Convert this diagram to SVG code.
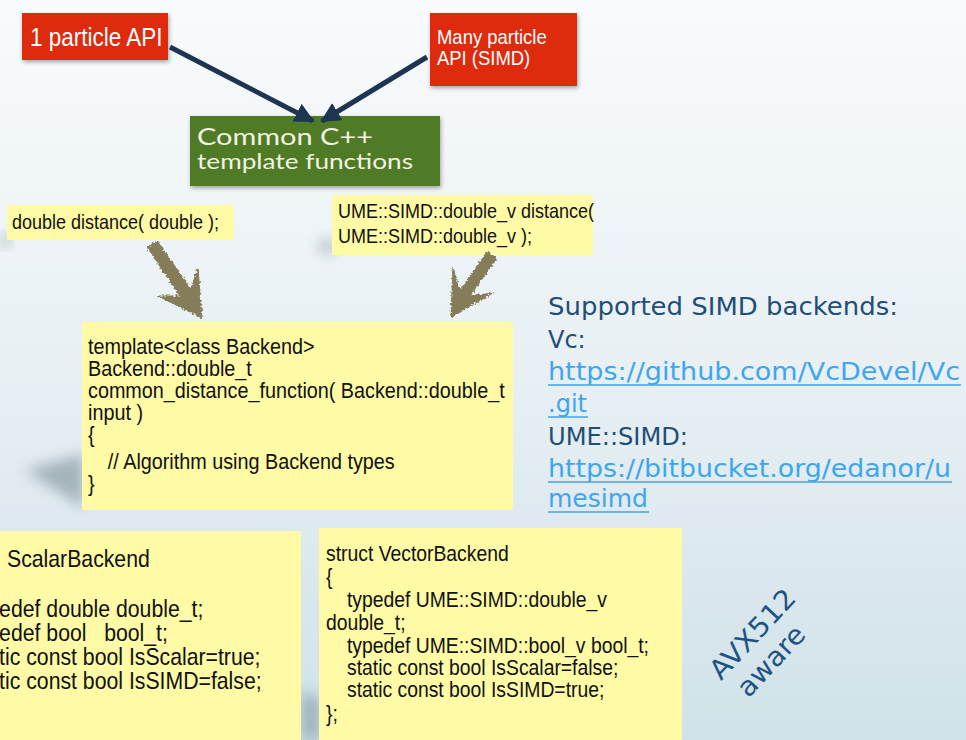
<svg xmlns="http://www.w3.org/2000/svg" width="966" height="740" viewBox="0 0 966 740">
<defs>
  <linearGradient id="bg" x1="0" y1="0" x2="0" y2="1">
    <stop offset="0" stop-color="#f9fbfc"/>
    <stop offset="0.5" stop-color="#e8f0f4"/>
    <stop offset="1" stop-color="#d0e2e9"/>
  </linearGradient>
  <filter id="blur" x="-50%" y="-50%" width="200%" height="200%">
    <feGaussianBlur stdDeviation="7"/>
  </filter>
  <filter id="dshadow" x="-10%" y="-10%" width="130%" height="140%">
    <feDropShadow dx="1" dy="2" stdDeviation="2" flood-color="#000" flood-opacity="0.35"/>
  </filter>
  <filter id="rough" x="-20%" y="-20%" width="140%" height="140%">
    <feTurbulence type="fractalNoise" baseFrequency="0.5" numOctaves="2" seed="3" result="n"/>
    <feDisplacementMap in="SourceGraphic" in2="n" scale="5" xChannelSelector="R" yChannelSelector="G"/>
  </filter>
  <marker id="navyHead" viewBox="0 0 10 10" refX="9" refY="5" markerWidth="4" markerHeight="4" orient="auto" markerUnits="strokeWidth">
    <path d="M0,0 L10,5 L0,10 z" fill="#1e3552"/>
  </marker>
  <style>
    .red{fill:#de2a0c;filter:url(#dshadow)}
    .yel{fill:#fffaa5}
    .wt{fill:#ffffff;font-family:"Liberation Sans",Arial,sans-serif}
    .code{fill:#111111;font-family:"Liberation Sans",Arial,sans-serif}
    .blue{fill:#1f4e79;font-family:"DejaVu Sans","Open Sans",sans-serif;font-size:24px}
    .link{fill:#3ea6ee;font-family:"DejaVu Sans","Open Sans",sans-serif;font-size:24px}
    .ul{stroke:#3ea6ee;stroke-width:1.5}
    .shadow{fill:#7d8d96;opacity:0.6;filter:url(#blur)}
    .olive{fill:#857c5a;stroke:#857c5a;stroke-width:1;filter:url(#rough)}
    .pre{white-space:pre}
  </style>
</defs>
<rect x="0" y="0" width="966" height="740" fill="url(#bg)"/>

<g id="shadows">
  <polygon class="shadow" points="24,470 84,454 84,508"/>
  <polygon class="shadow" points="0,234 10,236 10,246 0,246"/>
  <polygon class="shadow" points="314,246 334,238 334,256"/>
  <polygon class="shadow" points="302,690 320,700 320,740 302,740"/>
</g>

<g id="n-1particle">
  <rect class="red" x="22" y="13" width="146" height="47"/>
  <g transform="translate(30,0) scale(0.9,1)">
    <text class="wt" x="0" y="46" font-size="25">1 particle API</text>
  </g>
</g>

<g id="n-manyparticle">
  <rect class="red" x="430" y="13" width="147" height="73"/>
  <g transform="translate(437,0) scale(0.9,1)">
    <text class="wt" x="0" y="44" font-size="20.5">Many particle</text>
    <text class="wt" x="0" y="65" font-size="20.5">API (SIMD)</text>
  </g>
</g>

<g id="n-common">
  <rect x="190" y="116" width="250" height="70" fill="#4f7a28" filter="url(#dshadow)"/>
  <text x="197" y="145" font-family="Lato,'Open Sans',sans-serif" font-size="23" fill="#f3f1e2" textLength="176" lengthAdjust="spacingAndGlyphs">Common C++</text>
  <text x="197" y="169" font-family="Lato,'Open Sans',sans-serif" font-size="21.5" fill="#f3f1e2" textLength="216" lengthAdjust="spacingAndGlyphs">template functions</text>
</g>

<g id="n-scalarsig">
  <rect class="yel" x="7" y="205" width="227" height="35"/>
  <g transform="translate(12,0) scale(0.9,1)">
    <text class="code" x="0" y="229" font-size="20">double distance( double );</text>
  </g>
</g>

<g id="n-vectorsig">
  <rect class="yel" x="332" y="195" width="261" height="60"/>
  <g transform="translate(338,0) scale(0.9,1)">
    <text class="code" x="0" y="218" font-size="20">UME::SIMD::double_v distance(</text>
    <text class="code" x="0" y="243" font-size="20">UME::SIMD::double_v );</text>
  </g>
</g>

<g id="n-template">
  <rect class="yel" x="82" y="322" width="431" height="188"/>
  <g transform="translate(88,0) scale(0.9,1)">
    <text class="code" font-size="22">
      <tspan x="0" y="354">template&lt;class Backend&gt;</tspan>
      <tspan x="0" y="376">Backend::double_t</tspan>
      <tspan x="0" y="398">common_distance_function( Backend::double_t</tspan>
      <tspan x="0" y="420">input )</tspan>
      <tspan x="0" y="442">{</tspan>
      <tspan x="22" y="469">// Algorithm using Backend types</tspan>
      <tspan x="0" y="491">}</tspan>
    </text>
  </g>
</g>

<g id="n-backends">
  <text class="blue" x="548" y="315" textLength="350" lengthAdjust="spacingAndGlyphs">Supported SIMD backends:</text>
  <text class="blue" x="548" y="348">Vc:</text>
  <text class="link" x="548" y="380" textLength="412" lengthAdjust="spacingAndGlyphs">https://github.com/VcDevel/Vc</text>
  <line class="ul" x1="548" y1="385" x2="961" y2="385"/>
  <text class="link" x="548" y="412" textLength="39" lengthAdjust="spacingAndGlyphs">.git</text>
  <line class="ul" x1="548" y1="417" x2="588" y2="417"/>
  <text class="blue" x="548" y="445" textLength="140" lengthAdjust="spacingAndGlyphs">UME::SIMD:</text>
  <text class="link" x="548" y="477" textLength="403" lengthAdjust="spacingAndGlyphs">https://bitbucket.org/edanor/u</text>
  <line class="ul" x1="548" y1="482" x2="952" y2="482"/>
  <text class="link" x="548" y="507" textLength="100" lengthAdjust="spacingAndGlyphs">mesimd</text>
  <line class="ul" x1="548" y1="512" x2="649" y2="512"/>
</g>

<g id="n-scalarbackend">
  <rect class="yel" x="0" y="531" width="301" height="212"/>
  <g transform="scale(0.9,1)">
    <text class="code" font-size="23.6">
      <tspan x="7.8" y="567">ScalarBackend</tspan>
      <tspan x="-1" y="617">edef double double_t;</tspan>
      <tspan class="pre" x="-1" y="641">edef bool   bool_t;</tspan>
      <tspan x="-1" y="665">tic const bool IsScalar=true;</tspan>
      <tspan x="-1" y="689">tic const bool IsSIMD=false;</tspan>
    </text>
  </g>
</g>

<g id="n-vectorbackend">
  <rect class="yel" x="319" y="528" width="363" height="215"/>
  <g transform="translate(326,0) scale(0.9,1)">
    <text class="code" font-size="21.5">
      <tspan x="0" y="561">struct VectorBackend</tspan>
      <tspan x="0" y="584">{</tspan>
      <tspan x="23.3" y="607">typedef UME::SIMD::double_v</tspan>
      <tspan x="0" y="630">double_t;</tspan>
      <tspan x="23.3" y="653">typedef UME::SIMD::bool_v bool_t;</tspan>
      <tspan x="23.3" y="675">static const bool IsScalar=false;</tspan>
      <tspan x="23.3" y="697">static const bool IsSIMD=true;</tspan>
      <tspan x="0" y="721">};</tspan>
    </text>
  </g>
</g>

<g id="n-avx">
  <g transform="translate(763,648) rotate(-47)">
    <text x="3" y="-8" text-anchor="middle" font-family="'DejaVu Sans','Open Sans',sans-serif" font-size="27" fill="#1f5385" textLength="112" lengthAdjust="spacingAndGlyphs">AVX512</text>
    <text x="-4" y="24" text-anchor="middle" font-family="'DejaVu Sans','Open Sans',sans-serif" font-size="27" fill="#1f5385" textLength="86" lengthAdjust="spacingAndGlyphs">aware</text>
  </g>
</g>

<g id="connectors">
  <line x1="170" y1="47" x2="313" y2="121" stroke="#1e3552" stroke-width="5" marker-end="url(#navyHead)"/>
  <line x1="427" y1="57" x2="322" y2="121" stroke="#1e3552" stroke-width="5" marker-end="url(#navyHead)"/>
  <g class="olive">
    <path d="M147,247 L157,241 L191,289 L198,268 L202,318 L158,296 L180,296 Z"/>
    <path d="M487,252 L497,258 L470,296 L493,293 L451,317 L453,268 L460,290 Z"/>
  </g>
</g>
</svg>
